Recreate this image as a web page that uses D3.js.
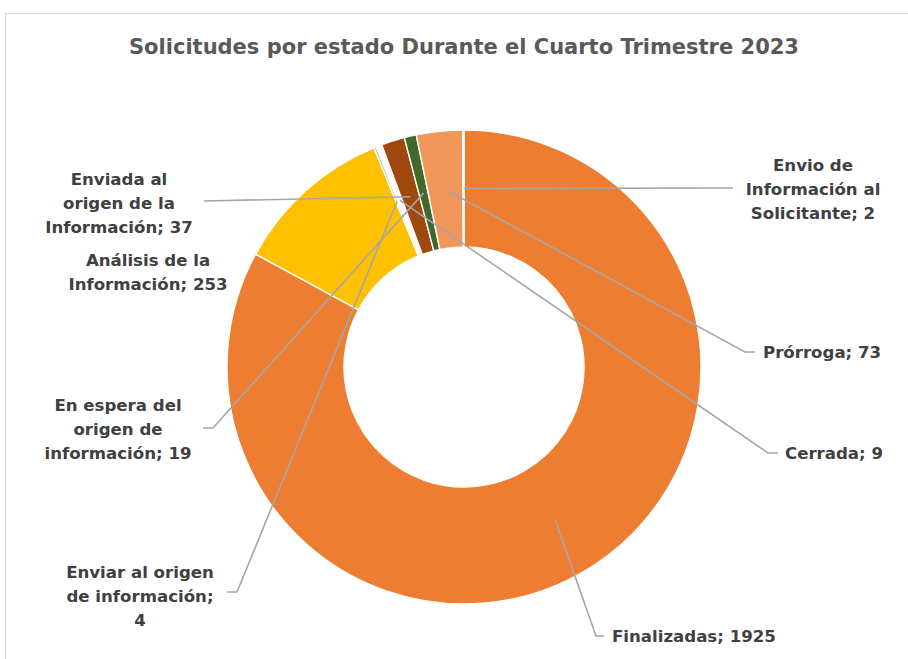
<!DOCTYPE html>
<html>
<head>
<meta charset="utf-8">
<script src="https://cdn.jsdelivr.net/npm/d3@7"></script>
<style>
  body { margin: 0; background: #fff; }
  svg { display: block; font-family: "DejaVu Sans", sans-serif; }
</style>
</head>
<body>
<svg id="chart" width="908" height="659"></svg>
<script>
// data, in the order Excel draws it (clockwise from 12 o'clock)
const categories = [
  "Finalizadas",
  "Análisis de la Información",
  "Enviar al origen de información",
  "Cerrada",
  "Enviada al origen de la Información",
  "En espera del origen de información",
  "Prórroga",
  "Envio de Información al Solicitante"
];
const values = [1925, 253, 4, 9, 37, 19, 73, 2];
const sliceColors = ["#ED7D31", "#FFC000", "#A9D18E", "#FBFBFB", "#9E480E", "#43682B", "#F1975A", "#FCE4D6"];

// label placement (layout only)
const labelLayout = [
  { lines: ["Finalizadas; 1925"], x: 612, y: 636, anchor: "start", elbow: [596, 636], tail: [604, 636] },
  { lines: ["Análisis de la", "Información; 253"], x: 148, y: 260, anchor: "middle" },
  { lines: ["Enviar al origen", "de información;", "4"], x: 140, y: 572, anchor: "middle", elbow: [237, 592], tail: [227, 592] },
  { lines: ["Cerrada; 9"], x: 785, y: 453, anchor: "start", elbow: [768, 453], tail: [778, 453] },
  { lines: ["Enviada al", "origen de la", "Información; 37"], x: 119, y: 179, anchor: "middle", elbow: [204, 201], tail: [204, 201] },
  { lines: ["En espera del", "origen de", "información; 19"], x: 118, y: 405, anchor: "middle", elbow: [213, 428], tail: [203, 428] },
  { lines: ["Prórroga; 73"], x: 763, y: 352, anchor: "start", elbow: [745, 352], tail: [755, 352] },
  { lines: ["Envio de", "Información al", "Solicitante; 2"], x: 813, y: 165, anchor: "middle", elbow: [733, 188], tail: [733, 188] }
];

const svg = d3.select("#chart");
const cx = 464, cy = 367, outerR = 237, innerR = 120;

// chart frame
svg.append("rect")
  .attr("x", 5.5).attr("y", 13.5)
  .attr("width", 920).attr("height", 700)
  .attr("fill", "#fff")
  .attr("stroke", "#D9D9D9")
  .attr("stroke-width", 1);

svg.append("text")
  .attr("x", 464).attr("y", 47)
  .attr("dy", "0.35em")
  .attr("text-anchor", "middle")
  .attr("fill", "#595959")
  .style("font-size", "21px")
  .style("font-weight", "600")
  .text("Solicitudes por estado Durante el Cuarto Trimestre 2023");

const pie = d3.pie().sort(null).value(d => d)(values);
const arc = d3.arc().innerRadius(innerR).outerRadius(outerR);
const midArc = d3.arc().innerRadius((innerR + outerR) / 2).outerRadius((innerR + outerR) / 2);

const g = svg.append("g").attr("transform", `translate(${cx},${cy})`);

g.selectAll("path.slice")
  .data(pie)
  .join("path")
  .attr("class", "slice")
  .attr("d", arc)
  .attr("fill", (d, i) => sliceColors[i])
  .attr("stroke", "#fff")
  .attr("stroke-width", 1.4);

// leader lines
svg.append("g")
  .selectAll("polyline")
  .data(pie.filter((d, i) => labelLayout[i].elbow))
  .join("polyline")
  .attr("fill", "none")
  .attr("stroke", "#A6A6A6")
  .attr("stroke-width", 1.6)
  .attr("points", d => {
    const L = labelLayout[d.index];
    const [mx, my] = midArc.centroid(d);
    return [[mx + cx, my + cy], L.elbow, L.tail].map(p => p.join(",")).join(" ");
  });

// labels
const lab = svg.append("g")
  .selectAll("text")
  .data(labelLayout)
  .join("text")
  .attr("text-anchor", d => d.anchor)
  .attr("fill", "#404040")
  .style("font-size", "16.6px")
  .style("font-weight", "bold");

lab.selectAll("tspan")
  .data(d => d.lines.map((t, k) => ({ t, k, x: d.x, y: d.y })))
  .join("tspan")
  .attr("x", d => d.x)
  .attr("y", d => d.y + d.k * 24)
  .attr("dy", "0.35em")
  .text(d => d.t);
</script>
</body>
</html>
